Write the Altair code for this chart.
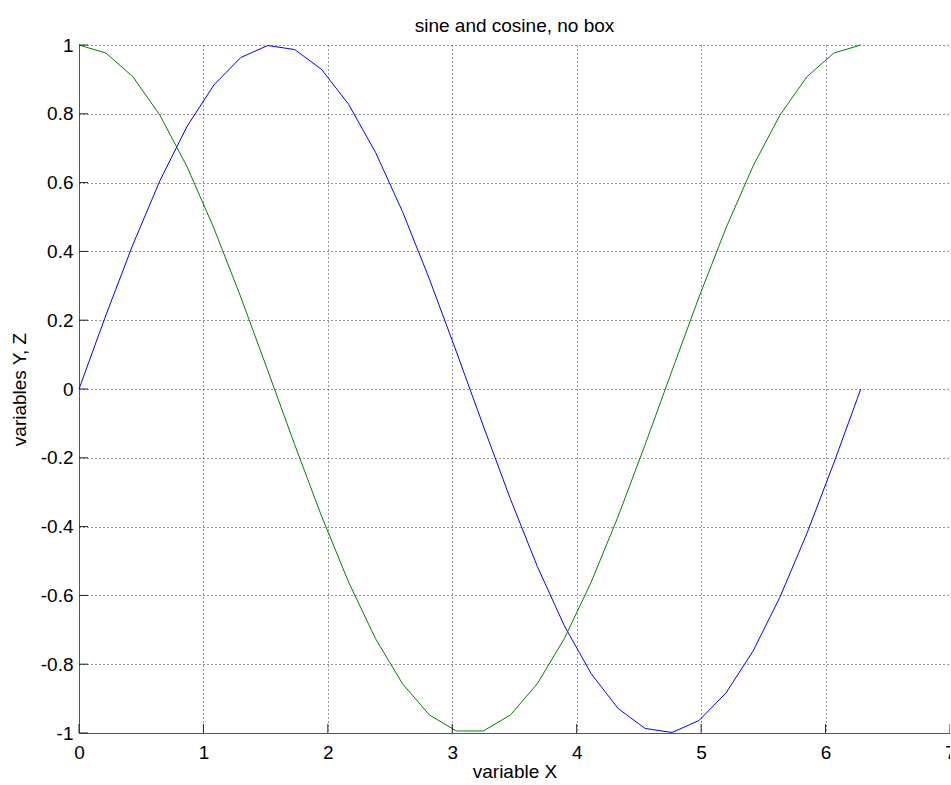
import altair as alt
import pandas as pd

# sample points (x in radians)
x_vals = [0.0, 0.2167, 0.4333, 0.6500, 0.8666, 1.0833, 1.3000, 1.5166, 1.7333, 1.9500,
          2.1666, 2.3833, 2.5999, 2.8166, 3.0333, 3.2499, 3.4666, 3.6833, 3.8999, 4.1166,
          4.3332, 4.5499, 4.7666, 4.9832, 5.1999, 5.4166, 5.6332, 5.8499, 6.0665, 6.2832]
y_sin = [0.0, 0.2150, 0.4199, 0.6052, 0.7622, 0.8835, 0.9635, 0.9985, 0.9868, 0.9290,
         0.8277, 0.6877, 0.5156, 0.3193, 0.1081, -0.1081, -0.3193, -0.5156, -0.6877, -0.8277,
         -0.9290, -0.9868, -0.9985, -0.9635, -0.8835, -0.7622, -0.6052, -0.4199, -0.2150, 0.0]
z_cos = [1.0, 0.9766, 0.9076, 0.7961, 0.6474, 0.4684, 0.2675, 0.0541, -0.1618, -0.3701,
         -0.5612, -0.7260, -0.8569, -0.9477, -0.9941, -0.9941, -0.9477, -0.8569, -0.7260, -0.5612,
         -0.3701, -0.1618, 0.0541, 0.2675, 0.4684, 0.6474, 0.7961, 0.9076, 0.9766, 1.0]

x_ticks = [0, 1, 2, 3, 4, 5, 6, 7]
y_ticks = [-1, -0.8, -0.6, -0.4, -0.2, 0, 0.2, 0.4, 0.6, 0.8, 1]

series_names = ["sin", "cos"]
series_colors = ["#0000ff", "#008000"]

FONT = "Liberation Sans"
W, H = 871, 688

rows = []
for xv, s, c in zip(x_vals, y_sin, z_cos):
    rows.append({"x": xv, "val": s, "series": "sin"})
    rows.append({"x": xv, "val": c, "series": "cos"})
df = pd.DataFrame(rows)

xscale = alt.Scale(domain=[0, 7], nice=False, zero=False)
yscale = alt.Scale(domain=[-1, 1], nice=False, zero=False)

xaxis = alt.Axis(values=x_ticks, title="variable X", grid=True,
                 ticks=False, labelPadding=10, labelFlush=False,
                 titlePadding=0, labelExpr="toString(datum.value)")
yaxis = alt.Axis(values=y_ticks, title="variables Y, Z", grid=True,
                 ticks=False, labelPadding=6, labelFlush=False,
                 titlePadding=11, labelExpr="toString(datum.value)")

lines = alt.Chart(df).mark_line(strokeWidth=1).encode(
    x=alt.X("x:Q", scale=xscale, axis=xaxis),
    y=alt.Y("val:Q", scale=yscale, axis=yaxis),
    color=alt.Color("series:N", scale=alt.Scale(domain=series_names, range=series_colors),
                    legend=None),
    detail="series:N",
)

xt = alt.Chart(pd.DataFrame({"x": x_ticks})).mark_rule(color="#222", strokeWidth=1).encode(
    x=alt.X("x:Q", scale=xscale, axis=xaxis),
    y=alt.value(H),
    y2=alt.value(H - 9),
)
yt = alt.Chart(pd.DataFrame({"val": y_ticks})).mark_rule(color="#222", strokeWidth=1).encode(
    y=alt.Y("val:Q", scale=yscale, axis=yaxis),
    x=alt.value(0),
    x2=alt.value(9),
)

chart = alt.layer(lines, xt, yt).properties(
    width=W,
    height=H,
    title=alt.TitleParams("sine and cosine, no box", fontSize=19, font=FONT,
                          fontWeight="normal", color="#000", offset=0, anchor="middle"),
    autosize=alt.AutoSizeParams(type="none"),
    padding={"left": 79, "top": 45, "right": 0, "bottom": 51},
).configure_view(
    stroke=None
).configure_axis(
    labelFont=FONT, titleFont=FONT, labelFontSize=19, titleFontSize=19,
    labelColor="#000", titleColor="#000", titleFontWeight="normal",
    domainColor="#555", domainWidth=1,
    gridColor="#333", gridDash=[1, 3], gridWidth=1, gridOpacity=1,
    labelOverlap=False,
)

chart.save("out.html", embed_options={"renderer": "svg", "actions": False})
